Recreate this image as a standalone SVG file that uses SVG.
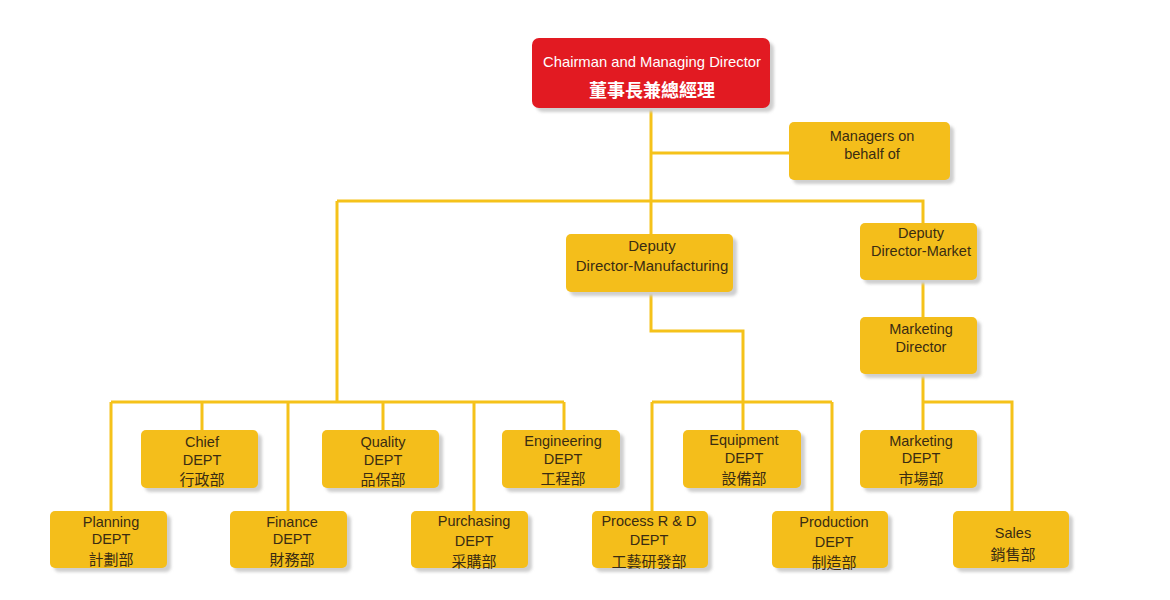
<svg xmlns="http://www.w3.org/2000/svg" width="1170" height="600" viewBox="0 0 1170 600">
<defs>
<filter id="sh" x="-10%" y="-10%" width="130%" height="140%"><feGaussianBlur stdDeviation="1.5"/></filter>
</defs>
<style>
.shadow{fill:#cfcfcf;filter:url(#sh)}
.box{fill:#F4BE1B}
.red{fill:#E21A22}
.t{font-family:"Liberation Sans",Arial,"Noto Sans CJK TC",sans-serif;font-size:14.5px;fill:#3a2c12;text-anchor:middle;dominant-baseline:central}
.c{font-family:"Noto Sans CJK TC","Noto Sans CJK SC",sans-serif;font-size:15px;fill:#3a2c12;text-anchor:middle;dominant-baseline:central}
.w{fill:#ffffff}
.conn{fill:none;stroke:#F5C21A;stroke-width:3}
</style>
<rect width="1170" height="600" fill="#ffffff"/>
<g id="connectors" class="conn">
<path d="M651,108V234"/>
<path d="M651,153H789"/>
<path d="M337,201H923V223"/>
<path d="M337,201V402"/>
<path d="M111,402H564"/>
<path d="M111,402V511M202,402V430M288,402V511M383,402V430M474,402V511M564,402V430"/>
<path d="M651,292V331H743V430"/>
<path d="M652,402H832M652,402V511M832,402V511"/>
<path d="M923,280V317"/>
<path d="M923,374V430M923,402H1012V511"/>
</g>
<g id="chairman">
<rect class="shadow" x="536" y="42" width="238" height="70" rx="7"/>
<rect class="red" x="532" y="38" width="238" height="70" rx="7"/>
<text class="t w" x="652" y="62" style="font-size:14.8px">Chairman and Managing Director</text>
<text class="c w" x="652" y="89" style="font-size:18px;font-weight:bold">董事長兼總經理</text>
</g>
<g id="managers">
<rect class="shadow" x="793" y="126" width="161" height="58" rx="5"/>
<rect class="box" x="789" y="122" width="161" height="58" rx="5"/>
<text class="t" x="872" y="136">Managers on</text>
<text class="t" x="872" y="154">behalf of</text>
</g>
<g id="deputy-mfg">
<rect class="shadow" x="570" y="238" width="167" height="58" rx="5"/>
<rect class="box" x="566" y="234" width="167" height="58" rx="5"/>
<text class="t" x="652" y="245" style="font-size:15px">Deputy</text>
<text class="t" x="652" y="265" style="font-size:15px">Director-Manufacturing</text>
</g>
<g id="deputy-market">
<rect class="shadow" x="864" y="227" width="117" height="57" rx="5"/>
<rect class="box" x="860" y="223" width="117" height="57" rx="5"/>
<text class="t" x="921" y="233">Deputy</text>
<text class="t" x="921" y="251">Director-Market</text>
</g>
<g id="marketing-director">
<rect class="shadow" x="864" y="321" width="117" height="57" rx="5"/>
<rect class="box" x="860" y="317" width="117" height="57" rx="5"/>
<text class="t" x="921" y="329">Marketing</text>
<text class="t" x="921" y="347">Director</text>
</g>
<g id="chief">
<rect class="shadow" x="145" y="434" width="117" height="58" rx="5"/>
<rect class="box" x="141" y="430" width="117" height="58" rx="5"/>
<text class="t" x="202" y="442">Chief</text>
<text class="t" x="202" y="460">DEPT</text>
<text class="c" x="202" y="478">行政部</text>
</g>
<g id="quality">
<rect class="shadow" x="326" y="434" width="117" height="58" rx="5"/>
<rect class="box" x="322" y="430" width="117" height="58" rx="5"/>
<text class="t" x="383" y="442">Quality</text>
<text class="t" x="383" y="460">DEPT</text>
<text class="c" x="383" y="478">品保部</text>
</g>
<g id="engineering">
<rect class="shadow" x="506" y="434" width="118" height="58" rx="5"/>
<rect class="box" x="502" y="430" width="118" height="58" rx="5"/>
<text class="t" x="563" y="441">Engineering</text>
<text class="t" x="563" y="459">DEPT</text>
<text class="c" x="563" y="477">工程部</text>
</g>
<g id="equipment">
<rect class="shadow" x="687" y="434" width="118" height="58" rx="5"/>
<rect class="box" x="683" y="430" width="118" height="58" rx="5"/>
<text class="t" x="744" y="440">Equipment</text>
<text class="t" x="744" y="458">DEPT</text>
<text class="c" x="744" y="477">設備部</text>
</g>
<g id="marketing-dept">
<rect class="shadow" x="864" y="434" width="117" height="58" rx="5"/>
<rect class="box" x="860" y="430" width="117" height="58" rx="5"/>
<text class="t" x="921" y="441">Marketing</text>
<text class="t" x="921" y="458">DEPT</text>
<text class="c" x="921" y="477">市場部</text>
</g>
<g id="planning">
<rect class="shadow" x="54" y="515" width="117" height="57" rx="5"/>
<rect class="box" x="50" y="511" width="117" height="57" rx="5"/>
<text class="t" x="111" y="522">Planning</text>
<text class="t" x="111" y="539">DEPT</text>
<text class="c" x="111" y="558">計劃部</text>
</g>
<g id="finance">
<rect class="shadow" x="234" y="515" width="117" height="57" rx="5"/>
<rect class="box" x="230" y="511" width="117" height="57" rx="5"/>
<text class="t" x="292" y="522">Finance</text>
<text class="t" x="292" y="539">DEPT</text>
<text class="c" x="292" y="558">財務部</text>
</g>
<g id="purchasing">
<rect class="shadow" x="415" y="515" width="117" height="57" rx="5"/>
<rect class="box" x="411" y="511" width="117" height="57" rx="5"/>
<text class="t" x="474" y="521">Purchasing</text>
<text class="t" x="474" y="541">DEPT</text>
<text class="c" x="474" y="560">采購部</text>
</g>
<g id="process-rd">
<rect class="shadow" x="596" y="515" width="116" height="57" rx="5"/>
<rect class="box" x="592" y="511" width="116" height="57" rx="5"/>
<text class="t" x="649" y="521">Process R &amp; D</text>
<text class="t" x="649" y="540">DEPT</text>
<text class="c" x="649" y="560">工藝研發部</text>
</g>
<g id="production">
<rect class="shadow" x="776" y="515" width="116" height="57" rx="5"/>
<rect class="box" x="772" y="511" width="116" height="57" rx="5"/>
<text class="t" x="834" y="522">Production</text>
<text class="t" x="834" y="542">DEPT</text>
<text class="c" x="834" y="561">制造部</text>
</g>
<g id="sales">
<rect class="shadow" x="957" y="515" width="116" height="57" rx="5"/>
<rect class="box" x="953" y="511" width="116" height="57" rx="5"/>
<text class="t" x="1013" y="533">Sales</text>
<text class="c" x="1013" y="553">銷售部</text>
</g>
</svg>
